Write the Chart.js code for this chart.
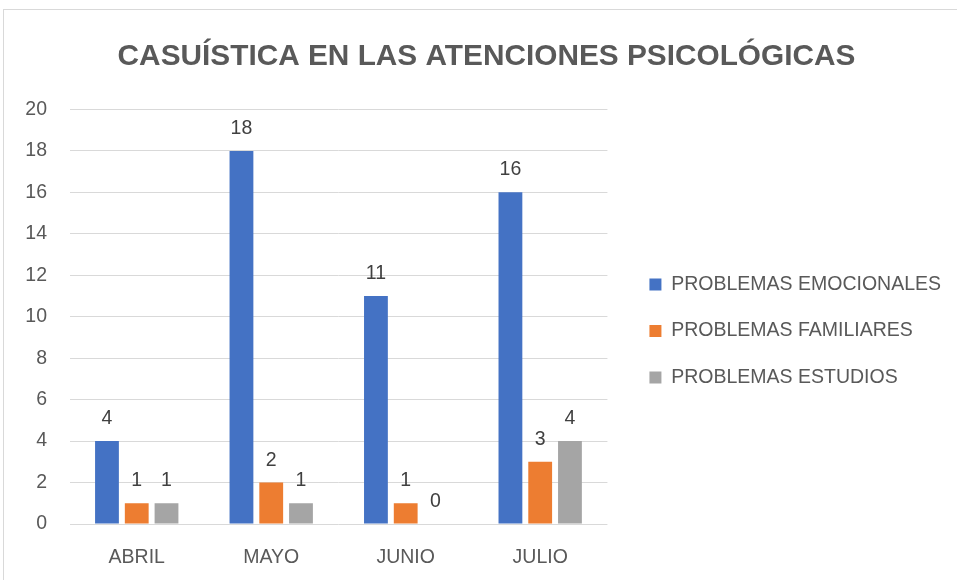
<!DOCTYPE html>
<html lang="es">
<head>
<meta charset="utf-8">
<title>Casuística en las atenciones psicológicas</title>
<script src="https://cdn.jsdelivr.net/npm/chart.js@4.4.1/dist/chart.umd.min.js"></script>
<style>
    html, body { margin: 0; padding: 0; background: #ffffff; overflow: hidden; }
    body { width: 957px; height: 580px; position: relative; }
    #marco {
        position: absolute; left: 3px; top: 9px;
        width: 1000px; height: 600px;
        border: 1px solid #d9d9d9;
        background: #ffffff;
    }
    #chart { position: absolute; left: 0; top: 0; }
</style>
</head>
<body>
<div id="marco">
    <canvas id="chart" width="965" height="570"></canvas>
</div>
<script>
// Datos del gráfico
const meses = ['ABRIL', 'MAYO', 'JUNIO', 'JULIO'];
const emocionales = [4, 18, 11, 16];
const familiares = [1, 2, 1, 3];
const estudios = [1, 1, 0, 4];
const ticksY = [0, 2, 4, 6, 8, 10, 12, 14, 16, 18, 20];

const FUENTE = "'Liberation Sans', Arial, sans-serif";
const GRIS_TEXTO = '#595959';

// Etiquetas de valor encima de cada barra
const etiquetasPlugin = {
    id: 'etiquetas',
    afterLayout(chart) {
        // centrar el título sobre todo el ancho del gráfico (la leyenda no cuenta)
        if (chart.titleBlock) {
            chart.titleBlock.left = 0;
            chart.titleBlock.right = chart.width;
        }
    },
    afterDatasetsDraw(chart) {
        const ctx = chart.ctx;
        ctx.save();
        ctx.font = '19.5px ' + FUENTE;
        ctx.fillStyle = '#404040';
        ctx.textAlign = 'center';
        ctx.textBaseline = 'alphabetic';
        chart.data.datasets.forEach((ds, i) => {
            const meta = chart.getDatasetMeta(i);
            meta.data.forEach((bar, j) => {
                ctx.fillText(String(ds.data[j]), bar.x, bar.y - 17);
            });
        });
        ctx.restore();
    }
};

document.addEventListener('DOMContentLoaded', function() {
    const ctx = document.getElementById('chart').getContext('2d');

    new Chart(ctx, {
        type: 'bar',
        data: {
            labels: meses,
            datasets: [
                { label: 'PROBLEMAS EMOCIONALES', data: emocionales, backgroundColor: '#4472c4' },
                { label: 'PROBLEMAS FAMILIARES', data: familiares, backgroundColor: '#ed7d31' },
                { label: 'PROBLEMAS ESTUDIOS', data: estudios, backgroundColor: '#a5a5a5' }
            ]
        },
        options: {
            responsive: false,
            animation: false,
            devicePixelRatio: 1,
            datasets: {
                bar: { barPercentage: 0.8, categoryPercentage: 0.664, borderWidth: 0 }
            },
            layout: { padding: { left: 0, right: 18, top: 0, bottom: 0 } },
            plugins: {
                tooltip: { enabled: false },
                title: {
                    display: true,
                    text: 'CASUÍSTICA EN LAS ATENCIONES PSICOLÓGICAS',
                    color: GRIS_TEXTO,
                    font: { family: FUENTE, size: 29.8, weight: 'bold' },
                    padding: { top: 29.2, bottom: 34.5 }
                },
                legend: {
                    display: true,
                    position: 'right',
                    fullSize: false,
                    align: 'center',
                    maxWidth: 420,
                    title: {
                        display: true,
                        text: ' ',
                        font: { size: 10 },
                        padding: { top: 16.6, bottom: 0 }
                    },
                    labels: {
                        boxWidth: 12,
                        boxHeight: 12,
                        padding: 27,
                        color: GRIS_TEXTO,
                        font: { family: FUENTE, size: 19.5 }
                    }
                }
            },
            scales: {
                x: {
                    grid: { display: false },
                    border: { display: false },
                    ticks: {
                        color: GRIS_TEXTO,
                        font: { family: FUENTE, size: 19.5 },
                        padding: 14
                    },
                    afterFit: function(scale) { scale.height = 56; }
                },
                y: {
                    min: 0,
                    max: 20,
                    afterBuildTicks: function(scale) {
                        scale.ticks = ticksY.map(v => ({ value: v }));
                    },
                    grid: { color: '#d9d9d9', lineWidth: 1, drawTicks: false },
                    border: { display: false },
                    ticks: {
                        color: GRIS_TEXTO,
                        font: { family: FUENTE, size: 19.5 },
                        padding: 22.5
                    },
                    afterFit: function(scale) { scale.width = 65.5; }
                },
                espacio: {
                    type: 'linear',
                    position: 'right',
                    display: true,
                    grid: { display: false },
                    border: { display: false },
                    ticks: { display: false },
                    afterFit: function(scale) { scale.width = 15; }
                }
            }
        },
        plugins: [etiquetasPlugin]
    });
});
</script>
</body>
</html>
